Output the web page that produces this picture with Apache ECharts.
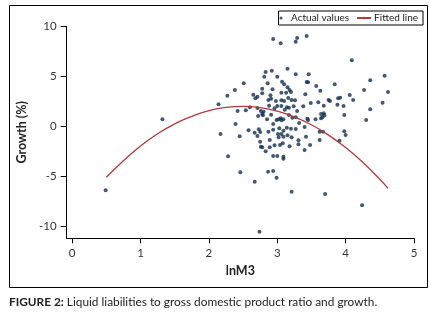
<!DOCTYPE html>
<html>
<head>
<meta charset="utf-8">
<script src="https://cdn.jsdelivr.net/npm/echarts@6/dist/echarts.min.js"></script>
<style>
html,body{margin:0;padding:0;background:#fff;}
#chart{width:430px;height:317px;}
</style>
</head>
<body>
<div id="chart"></div>
<script>
// Actual values (lnM3, growth %)
const actualX = [1.32,0.49,2.94,3.05,3.27,3.29,3.43,4.09,3.15,2.83,2.92,3.27,3.46,2.81,3.00,2.51,2.86,3.07,3.10,3.43,3.45,3.84,2.38,2.78,2.93,3.15,3.18,3.63,4.57,4.36,2.27,2.65,2.71,2.78,2.90,3.06,3.13,3.20,3.41,3.57,2.14,2.68,2.87,2.91,2.98,3.06,3.10,3.16,3.21,3.26,3.49,3.60,3.75,3.77,3.89,3.92,4.06,4.11,4.27,4.62,2.42,2.54,2.60,2.71,2.76,2.80,2.88,2.96,3.00,3.06,3.11,3.14,3.17,3.24,3.29,3.38,3.68,3.88,3.97,3.64,3.68,3.66,3.69,3.98,4.36,4.54,2.39,2.72,2.78,2.79,2.85,2.91,2.94,2.99,3.02,3.05,3.06,3.09,3.17,3.22,3.27,3.32,3.44,3.45,3.56,3.64,4.30,2.17,2.45,2.58,2.67,2.73,2.75,2.87,2.94,3.01,3.03,3.09,3.14,3.20,3.27,3.40,3.62,3.67,3.98,4.00,2.71,2.75,2.89,3.02,3.06,3.09,3.15,3.21,3.31,3.42,3.48,3.62,3.91,2.76,2.78,2.83,2.89,2.96,3.04,3.08,3.18,3.31,3.40,2.28,2.94,3.00,3.09,3.09,2.46,2.67,2.865,2.94,2.99,3.21,3.70,4.24,2.74];
const actualY = [0.7,-6.4,8.73,8.3,8.46,8.83,9.03,6.6,5.76,5.43,5.56,5.2,5.2,4.96,4.96,4.3,4.3,4.46,4.2,4.43,4.4,4.2,3.63,3.76,3.7,3.9,3.63,3.56,5.06,4.6,3.06,3.16,2.96,3.3,3.1,3.36,3.36,3.43,3.2,4.03,2.2,2.8,2.63,2.76,2.53,2.6,2.53,2.83,2.63,2.6,2.33,2.4,2.63,2.53,2.8,2.86,3.13,2.63,3.63,3.43,1.53,1.6,1.9,1.83,1.53,1.46,2.06,1.8,2.03,2.03,1.66,1.9,1.86,2.0,1.53,2.0,2.06,2.16,2.03,1.23,1.3,0.9,1.1,1.13,1.7,2.36,0.23,1.03,1.23,1.1,0.7,1.16,0.23,0.63,0.7,0.8,0.6,0.7,1.13,0.86,0.9,0.33,0.76,0.63,0.7,0.8,0.63,-0.77,-1.0,-0.4,-0.64,-0.3,-0.57,-0.54,-0.34,-0.77,-0.2,-0.44,-0.14,-0.24,-0.27,-0.07,-0.54,-0.54,-0.5,-0.87,-0.97,-1.54,-1.37,-1.1,-0.77,-1.04,-0.9,-1.1,-1.4,-1.04,-1.87,-1.37,-1.44,-2.04,-2.1,-2.5,-2.1,-1.9,-1.87,-1.7,-2.0,-1.8,-2.37,-3.0,-2.97,-2.97,-3.05,-3.25,-4.6,-5.54,-4.54,-4.47,-5.14,-6.54,-6.77,-7.9,-10.54];
// Fitted line
const fitX = [0.5,0.75,1,1.25,1.5,1.75,2,2.25,2.5,2.75,3,3.25,3.5,3.75,4,4.25,4.5,4.62];
const fitY = [-5.1,-3.45,-1.97,-0.75,0.25,1.0,1.57,1.9,2.0,1.87,1.52,0.95,0.15,-0.88,-2.13,-3.6,-5.3,-6.2];
const xTicks = [0,1,2,3,4,5];
const yTicks = [-10,-5,0,5,10];

const FONT = 'Lato';
const chart = echarts.init(document.getElementById('chart'), null, {renderer:'canvas'});
chart.setOption({
  animation:false,
  backgroundColor:'#fff',
  textStyle:{fontFamily:FONT},
  grid:{left:66.7, right:16, top:26.3, bottom:78.7},
  legend:{
    right:7, top:11,
    orient:'horizontal',
    borderColor:'#000', borderWidth:1, borderRadius:0,
    padding:[2,5,2,1],
    itemGap:7, itemWidth:14, itemHeight:3,
    textStyle:{fontFamily:FONT, fontSize:10, color:'#222', padding:[0,0,0,-2]},
    data:[{name:'Actual values', icon:'circle'},{name:'Fitted line'}]
  },
  xAxis:{
    type:'value', min:-0.08, max:5,
    name:'lnM3', nameLocation:'middle', nameGap:25,
    nameTextStyle:{fontFamily:FONT, fontSize:12.5, fontWeight:'bold', color:'#222'},
    axisLine:{show:true, onZero:false, lineStyle:{color:'#000', width:1}},
    axisTick:{show:true, length:5, lineStyle:{color:'#000'}, customValues:xTicks},
    axisLabel:{fontSize:11.5, color:'#333', margin:9, customValues:xTicks},
    splitLine:{show:false}
  },
  yAxis:{
    type:'value', min:-11.2, max:10,
    name:'Growth (%)', nameLocation:'middle', nameGap:28, nameRotate:90,
    nameTextStyle:{fontFamily:FONT, fontSize:12.5, fontWeight:'bold', color:'#222'},
    axisLine:{show:true, onZero:false, lineStyle:{color:'#000', width:1}},
    axisTick:{show:true, length:6, lineStyle:{color:'#000'}, customValues:yTicks},
    axisLabel:{fontSize:11.5, color:'#333', margin:10, customValues:yTicks},
    splitLine:{show:false}
  },
  series:[
    {
      name:'Actual values', type:'scatter', symbol:'circle', symbolSize:4,
      itemStyle:{color:'#14304f'},
      data: actualX.map((x,i)=>[x, actualY[i]])
    },
    {
      name:'Fitted line', type:'line', smooth:true, showSymbol:false, symbol:'none',
      lineStyle:{color:'#b23a3f', width:1.3},
      itemStyle:{color:'#b23a3f'},
      data: fitX.map((x,i)=>[x, fitY[i]])
    }
  ],
  graphic:[
    {type:'rect', shape:{x:9.5, y:5.5, width:418, height:282}, style:{fill:null, stroke:'#000', lineWidth:1}, silent:true, z:-1},
    {type:'text', x:9, y:296, scaleX:1.03, style:{text:'{b|FIGURE 2:} Liquid liabilities to gross domestic product ratio and growth.', font:'11.5px '+FONT, fill:'#222',
      rich:{b:{fontWeight:'bold', fontSize:11.5, fontFamily:FONT, fill:'#222'}}}}
  ]
});
</script>
</body>
</html>
